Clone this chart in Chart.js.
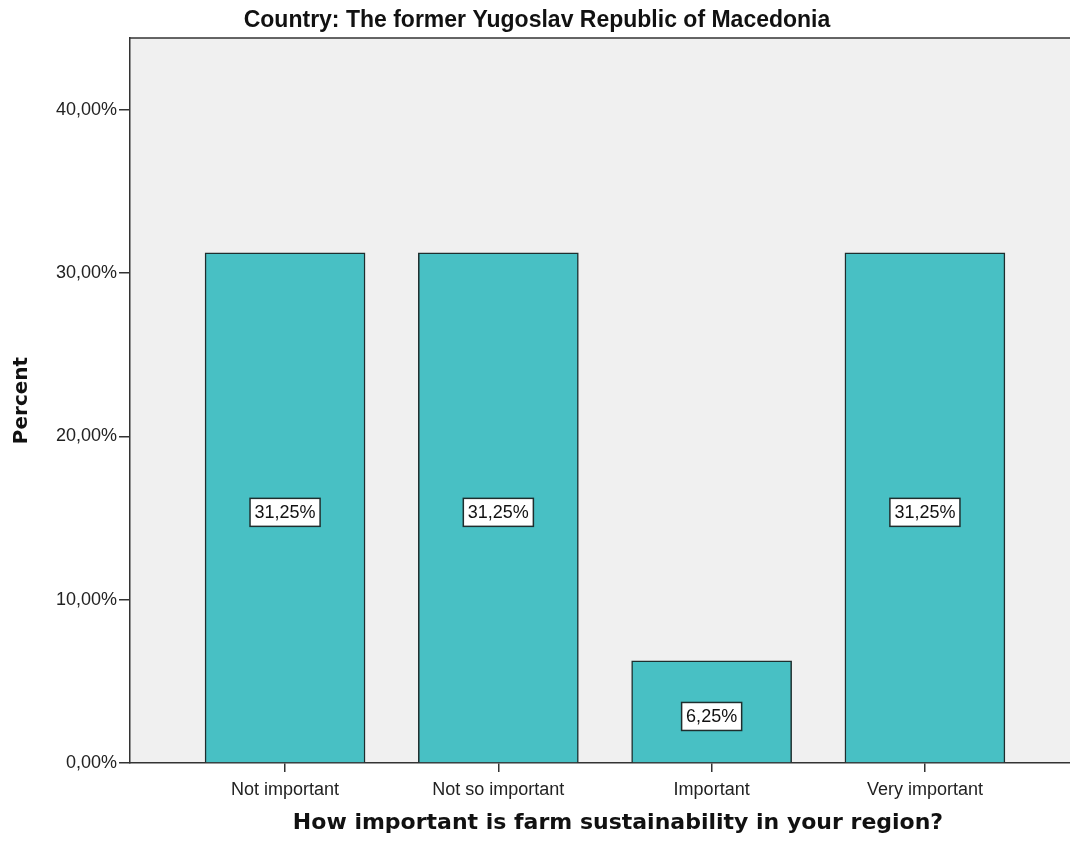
<!DOCTYPE html>
<html>
<head>
<meta charset="utf-8">
<title>Farm sustainability importance</title>
<script src="https://cdn.jsdelivr.net/npm/chart.js@4/dist/chart.umd.min.js"></script>
<style>
    html, body { margin: 0; padding: 0; background: #ffffff; overflow: hidden; }
    #wrap { width: 1070px; height: 847px; overflow: hidden; position: relative; }
    #inner { width: 1106px; height: 847px; position: absolute; left: 0; top: 0; }
</style>
</head>
<body>
<div id="wrap"><div id="inner"><canvas id="barChart"></canvas></div></div>
<script>
// Chart data
const categories = ['Not important', 'Not so important', 'Important', 'Very important'];
const percents = [31.25, 31.25, 6.25, 31.25];
const yTicks = [0, 10, 20, 30, 40];

const chartTitle = 'Country: The former Yugoslav Republic of Macedonia';
const xTitle = 'How important is farm sustainability in your region?';
const yTitle = 'Percent';

const ARIAL = '"Liberation Sans", Arial, sans-serif';
const VERDANA = '"DejaVu Sans", Verdana, sans-serif';

function fmtPct(v) {
    return v.toFixed(2).replace('.', ',') + '%';
}

// Plot background, top frame line and the heading above it
const plotBackground = {
    id: 'plotBackground',
    beforeDraw(chart) {
        const { ctx, chartArea: a } = chart;
        ctx.save();
        ctx.fillStyle = '#f0f0f0';
        ctx.fillRect(a.left, a.top, a.right - a.left, a.bottom - a.top);
        ctx.strokeStyle = '#333333';
        ctx.lineWidth = 1.5;
        ctx.beginPath();
        ctx.moveTo(a.left, a.top);
        ctx.lineTo(a.right, a.top);
        ctx.stroke();

        ctx.fillStyle = '#111111';
        ctx.font = 'bold 23px ' + ARIAL;
        ctx.textAlign = 'center';
        ctx.textBaseline = 'alphabetic';
        ctx.fillText(chartTitle, 537, 27);
        ctx.restore();
    }
};

// Boxed value labels in the middle of each bar
const valueBoxes = {
    id: 'valueBoxes',
    afterDatasetsDraw(chart) {
        const { ctx } = chart;
        const xs = chart.scales.x, ys = chart.scales.y;
        ctx.save();
        ctx.font = '18px ' + ARIAL;
        ctx.textAlign = 'center';
        ctx.textBaseline = 'middle';
        percents.forEach((v, i) => {
            const cx = xs.getPixelForValue(i);
            const cy = ys.getPixelForValue(v / 2) + 4.5;
            const label = fmtPct(v);
            const w = ctx.measureText(label).width + 9;
            const h = 28;
            ctx.fillStyle = '#ffffff';
            ctx.fillRect(cx - w / 2, cy - h / 2, w, h);
            ctx.strokeStyle = '#1e2e2e';
            ctx.lineWidth = 1.5;
            ctx.strokeRect(cx - w / 2, cy - h / 2, w, h);
            ctx.fillStyle = '#111111';
            ctx.fillText(label, cx, cy + 1);
        });
        ctx.restore();
    }
};

const ctx = document.getElementById('barChart').getContext('2d');
new Chart(ctx, {
    type: 'bar',
    data: {
        datasets: [{
            data: percents.map((v, i) => ({ x: i, y: v })),
            backgroundColor: '#48c0c4',
            borderColor: '#1e2e2e',
            borderWidth: 1.5,
            borderSkipped: 'bottom',
            barThickness: 160
        }]
    },
    options: {
        responsive: true,
        maintainAspectRatio: false,
        animation: false,
        layout: { padding: { top: 38, right: 0, bottom: 0, left: 8 } },
        plugins: {
            legend: { display: false },
            tooltip: { enabled: false },
            title: { display: false }
        },
        scales: {
            x: {
                type: 'linear',
                offset: false,
                min: -0.727,
                max: 3.849,
                afterBuildTicks(scale) {
                    scale.ticks = categories.map((c, i) => ({ value: i }));
                },
                afterFit(scale) {
                    scale.height = 84;
                },
                ticks: {
                    color: '#222222',
                    font: { family: ARIAL, size: 18 },
                    padding: 7,
                    maxRotation: 0,
                    autoSkip: false,
                    callback: (v) => categories[v]
                },
                grid: { offset: false, drawOnChartArea: false, tickLength: 9, color: '#333333', lineWidth: 1.5 },
                border: { color: '#333333', width: 1.5 },
                title: {
                    display: true,
                    text: xTitle,
                    color: '#111111',
                    font: { family: VERDANA, size: 22, weight: 'bold' },
                    padding: { top: 0, bottom: 11 }
                }
            },
            y: {
                min: 0,
                max: 44.4,
                afterBuildTicks(scale) {
                    scale.ticks = yTicks.map(v => ({ value: v }));
                },
                afterFit(scale) {
                    scale.width = 122;
                },
                ticks: {
                    color: '#222222',
                    font: { family: ARIAL, size: 18 },
                    padding: 2,
                    callback: (v) => fmtPct(v)
                },
                grid: { drawOnChartArea: false, tickLength: 11, color: '#333333', lineWidth: 1.5 },
                border: { color: '#333333', width: 1.5 },
                title: {
                    display: true,
                    text: yTitle,
                    color: '#111111',
                    font: { family: VERDANA, size: 20, weight: 'bold' },
                    padding: { top: 2, bottom: 0 }
                }
            }
        }
    },
    plugins: [plotBackground, valueBoxes]
});
</script>
</body>
</html>
